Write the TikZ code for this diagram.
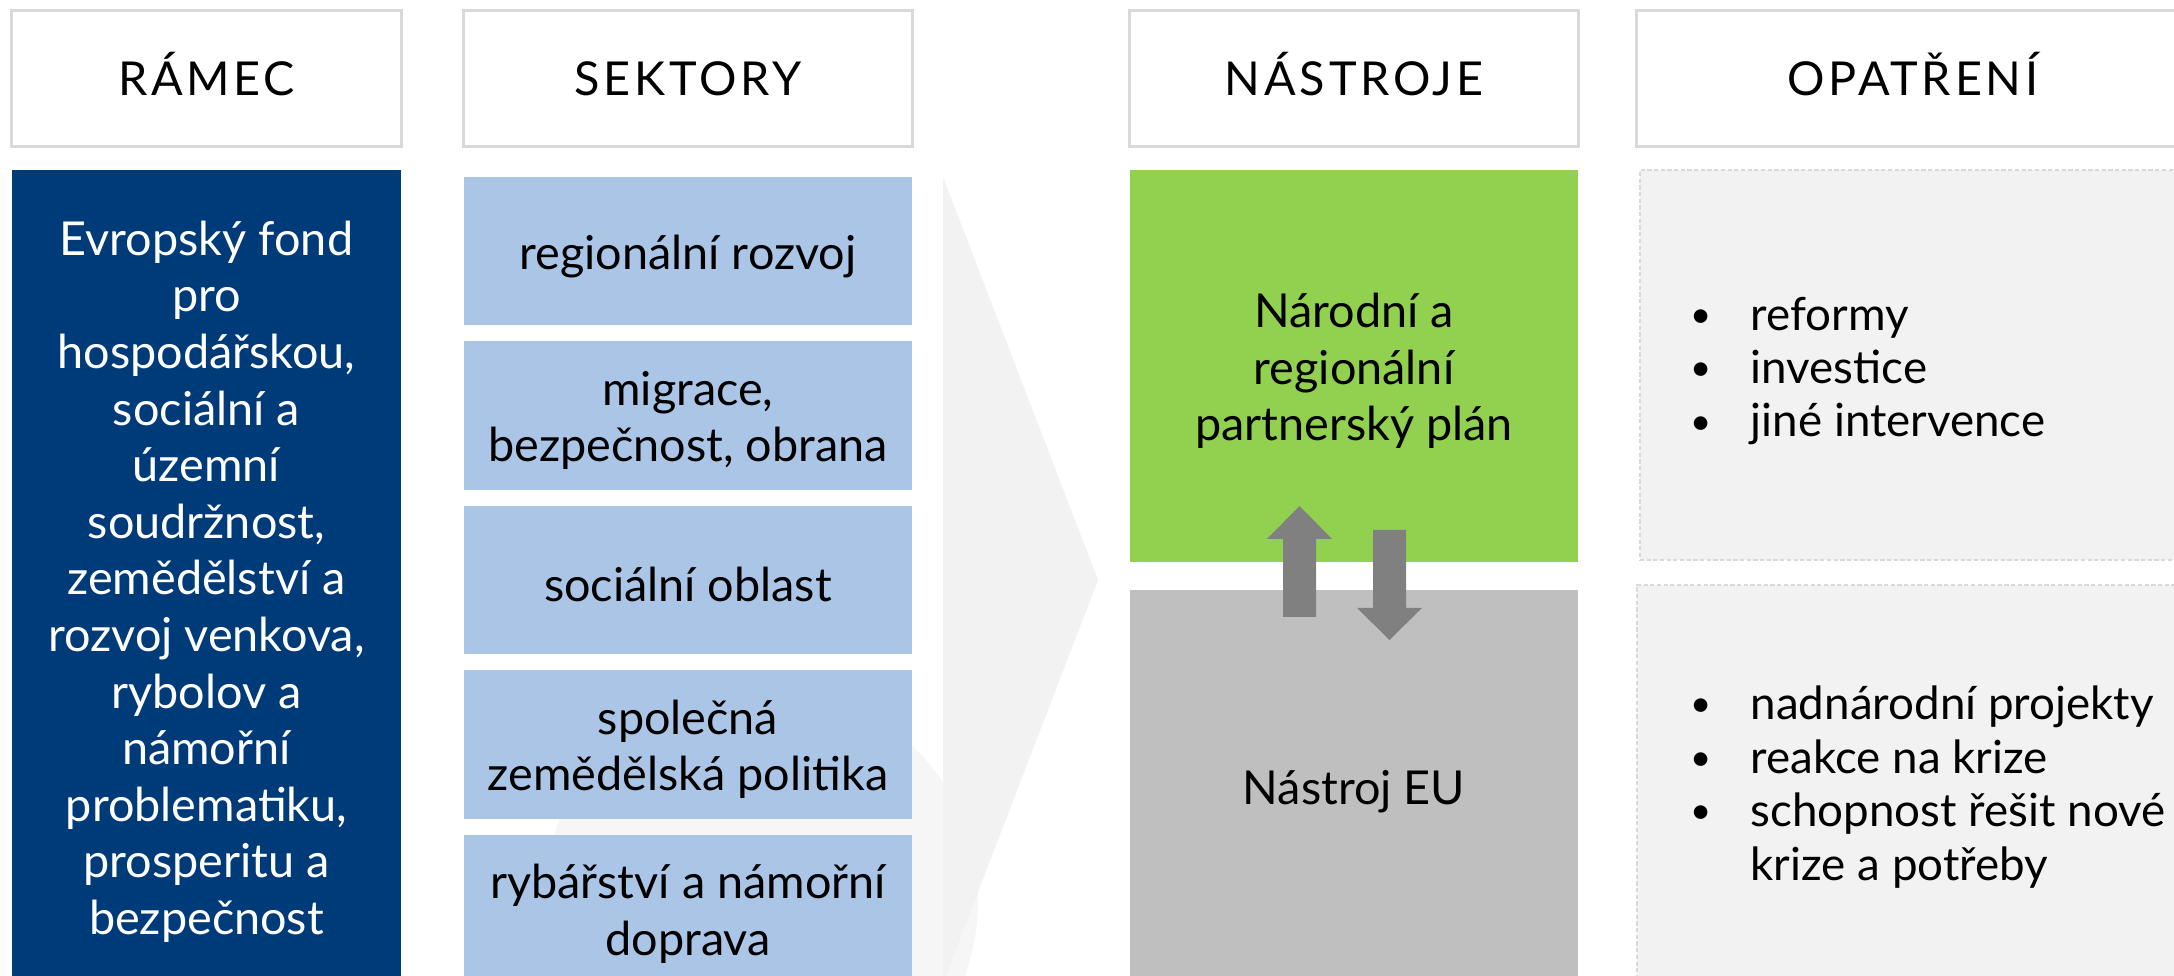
\documentclass[tikz,border=0pt]{standalone}
\usepackage{fontspec}
\setmainfont{Lato}
\usetikzlibrary{positioning}

\definecolor{ramecblue}{HTML}{003B79}
\definecolor{sectorblue}{HTML}{ABC5E7}
\definecolor{plangreen}{HTML}{92D050}
\definecolor{eugrey}{HTML}{BFBFBF}
\definecolor{arrowgrey}{HTML}{808080}
\definecolor{framegrey}{HTML}{D9D9D9}
\definecolor{palegrey}{HTML}{F2F2F2}
\definecolor{palergrey}{HTML}{F6F6F6}

\newcommand{\itembullet}{\makebox[0.6cm][l]{\raisebox{0.12ex}{\scalebox{0.8}{•}}}}

\begin{document}
\begin{tikzpicture}[x=0.01cm, y=-0.01cm,
    every node/.style={inner sep=0pt, font=\fontsize{13.3}{16.1}\selectfont},
    boxtext/.style={align=center, yshift=-1.4pt},
    headbox/.style={draw=framegrey, line width=0.85pt, fill=white, minimum height=1.35cm,
        text height=9.5pt, text depth=0pt,
        font=\fontsize{13.3}{16.1}\selectfont\addfontfeature{LetterSpace=8}},
    sectorbox/.style={fill=sectorblue, minimum width=4.48cm, minimum height=1.484cm},
    notebox/.style={draw=framegrey, line width=0.6pt, dash pattern=on 1.2pt off 0.7pt, fill=palegrey},
    itemlist/.style={anchor=west, align=left, font=\fontsize{13}{15.2}\selectfont}]
    \useasboundingbox (0,0) rectangle (2174,976);
    \clip (0,0) rectangle (2174,976);

    % background shapes
    \fill[palergrey] (761,901) circle[radius=217];
    \fill[palegrey] (943,177) -- (1098,580) -- (943,983) -- cycle;

    % headers
    \node[headbox, minimum width=3.89cm] (ramec) at (206.5,78.5) {RÁMEC};
    \node[headbox, minimum width=4.48cm] (sektory) at (688,78.5) {SEKTORY};
    \node[headbox, minimum width=4.48cm] (nastroje) at (1354,78.5) {NÁSTROJE};
    \node[headbox, minimum width=5.52cm] (opatreni) at (1913,78.5) {OPATŘENÍ};

    % framework
    \node[fill=ramecblue, minimum width=3.89cm, minimum height=8.125cm,
        label={[boxtext, text=white]center:{Evropský fond\\pro\\hospodářskou,\\sociální a\\územní\\soudržnost,\\zemědělství a\\rozvoj venkova,\\rybolov a\\námořní\\problematiku,\\prosperitu a\\bezpečnost}}]
        (fond) at (206.5,576.75) {};

    % sectors
    \foreach \i/\txt in {1/{regionální rozvoj}, 2/{migrace,\\bezpečnost, obrana}, 3/{sociální oblast},
                         4/{společná\\zemědělská politika}, 5/{rybářství a námořní\\doprava}}
        \node[sectorbox, label={[boxtext]center:{\txt}}] (sector\i) at (688,{251.2+(\i-1)*164.4}) {};

    % instruments
    \node[fill=plangreen, minimum width=4.48cm, minimum height=3.91cm,
        label={[boxtext]center:{Národní a\\regionální\\partnerský plán}}] (plan) at (1354,366) {};
    \node[fill=eugrey, minimum width=4.48cm, minimum height=3.93cm,
        label={[boxtext]center:Nástroj EU}] (eu) at (1354,787) {};

    \fill[arrowgrey] (1283,617) -- (1283,539) -- (1267,539) -- (1299.5,506) -- (1332,539)
        -- (1316,539) -- (1316,617) -- cycle;
    \fill[arrowgrey] (1373,530) -- (1373,608) -- (1357,608) -- (1389.5,640) -- (1422,608)
        -- (1406,608) -- (1406,530) -- cycle;

    % measures
    \node[notebox, minimum width=5.49cm, minimum height=3.895cm] (plannote) at (1914.5,365.25) {};
    \node[notebox, minimum width=5.52cm, minimum height=3.96cm] (eunote) at (1913,783) {};
    \node[itemlist] (planitems) at (1690,371)
        {\itembullet reformy\\\itembullet investice\\\itembullet jiné intervence};
    \node[itemlist] (euitems) at (1690,787)
        {\itembullet nadnárodní projekty\\\itembullet reakce na krize\\\itembullet schopnost řešit nové\\\hspace*{0.6cm}krize a potřeby};
\end{tikzpicture}
\end{document}
